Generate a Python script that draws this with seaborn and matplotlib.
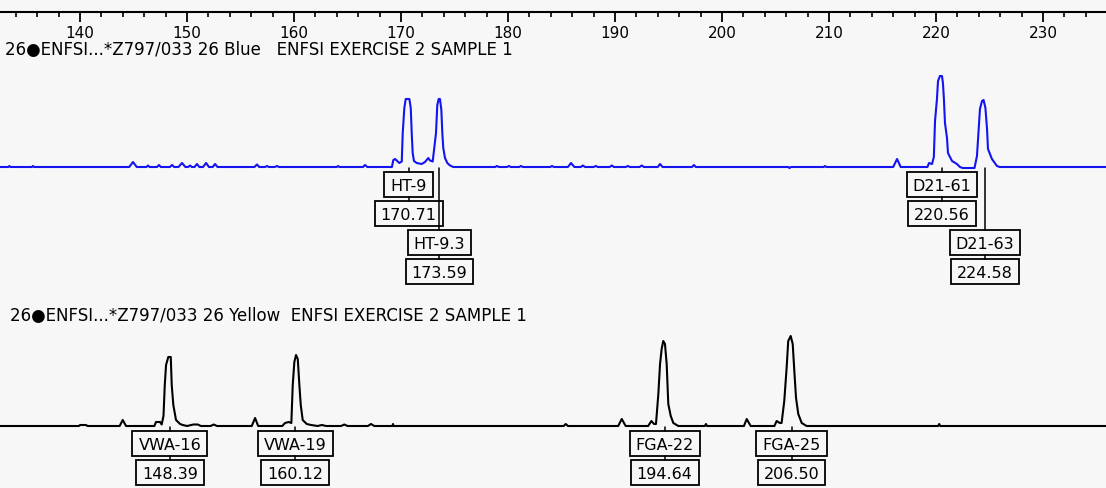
import matplotlib
matplotlib.use('Agg')
import matplotlib.pyplot as plt
from matplotlib.patches import Rectangle
from matplotlib.ticker import MultipleLocator
import seaborn as sns

# trace vertices: fragment size (bp) and signal height above baseline
blue_size = [132.52,
             133.3, 133.4, 133.5, 135.5, 135.6, 135.7,
             144.6, 144.95, 145.3, 146.2, 146.36, 146.5, 147.2, 147.38, 147.55,
             148.4, 148.6, 148.8, 149.2, 149.53, 149.85, 150.1, 150.28, 150.45,
             150.7, 150.93, 151.15, 151.5, 151.78, 152.05, 152.4, 152.62, 152.85,
             156.3, 156.54, 156.75, 157.3, 157.48, 157.65, 158.2, 158.41, 158.6,
             164.0, 164.11, 164.25, 166.45, 166.64, 166.85,
             169.15, 169.28, 169.44, 169.60, 169.84, 170.07, 170.16, 170.31, 170.44, 170.78,
             170.91, 171.00, 171.09, 171.21, 171.47, 171.93, 172.24, 172.40, 172.55, 172.71,
             172.96, 173.27, 173.39, 173.52, 173.64, 173.77, 173.86, 173.95, 174.11, 174.33,
             174.58, 174.89,
             178.8, 178.97, 179.15, 179.9, 180.09, 180.25, 181.05, 181.21, 181.4,
             183.95, 184.11, 184.3, 185.6, 185.89, 186.2, 186.8, 187.0, 187.2,
             188.0, 188.2, 188.4, 189.5, 189.7, 189.9, 191.0, 191.2, 191.4,
             192.3, 192.5, 192.7, 194.0, 194.21, 194.45, 197.2, 197.38, 197.55,
             206.2, 206.3, 206.45, 209.5, 209.63, 209.75, 216.0, 216.36, 216.7,
             219.2, 219.35, 219.63, 219.80, 219.91, 220.09, 220.19, 220.37, 220.56, 220.65,
             220.74, 220.84, 221.03, 221.12, 221.50, 221.96, 222.24, 222.5, 223.6, 223.83,
             224.11, 224.30, 224.45, 224.62, 224.77, 224.86, 225.23, 225.70, 225.95,
             235.89]
blue_rfu = [0,
            0, 1, 0, 0, 1, 0,
            0, 5, 0, 0, 1.5, 0, 0, 2, 0,
            0, 2, 0, 0, 4, 0, 0, 1.5, 0,
            0, 3, 0, 0, 4, 0, 0, 3, 0,
            0, 2.5, 0, 0, 1, 0, 0, 1, 0,
            0, 1, 0, 0, 2, 0,
            0, 7, 8, 6.5, 4, 5.5, 34, 59, 68, 68,
            59, 34, 14, 6, 4, 3, 5, 7, 9, 6.5,
            5.5, 34, 62, 68, 68, 57, 34, 19, 9, 4,
            1.5, 0,
            0, 1, 0, 0, 1, 0, 0, 1, 0,
            0, 1, 0, 0, 4, 0, 0, 1.5, 0,
            0, 1, 0, 0, 1.5, 0, 0, 1, 0,
            0, 1.5, 0, 0, 3, 0, 0, 2, 0,
            0, -1, 0, 0, 1, 0, 0, 8, 0,
            0, 4, 3, 10, 46, 68, 86, 91, 91, 84,
            68, 44, 29, 14, 6, 3, 0, -1, -1, 11,
            58, 66, 67, 59, 38, 18, 8, 1, 0,
            0]

yellow_size = [132.52,
               139.9, 140.0, 140.56, 140.7, 143.7, 143.99, 144.3,
               146.95, 147.10, 147.48, 147.63, 147.80, 147.92, 148.04, 148.25, 148.48, 148.57,
               148.72, 148.97, 149.35, 149.6, 150.0,
               150.6, 151.0, 151.3, 152.2, 152.5, 152.8, 156.05, 156.36, 156.65,
               158.9, 159.16, 159.5, 159.75, 159.88, 160.03, 160.19, 160.35, 160.50, 160.63,
               160.81, 161.19, 161.6, 162.2,
               162.6, 163.0, 164.4, 164.7, 165.0, 166.9, 167.2, 167.5, 169.2, 169.25, 169.3,
               185.2, 185.4, 185.6, 190.3, 190.63, 191.0,
               193.1, 193.4, 193.65, 193.83, 194.05, 194.21, 194.36, 194.51, 194.67, 194.83,
               194.98, 195.21, 195.45, 195.92,
               198.4, 198.5, 198.6, 202.05, 202.31, 202.68,
               204.9, 205.11, 205.4, 205.57, 205.82, 206.04, 206.19, 206.42, 206.61, 206.76,
               206.92, 207.13, 207.45, 207.91,
               220.2, 220.3, 220.4,
               235.89]
yellow_rfu = [0,
              0, 1, 1, 0, 0, 6, 0,
              0, 4, 4, 1.5, 10, 41, 61, 69, 69, 41,
              21, 6, 2, 1, 0,
              1.5, 1.5, 0, 0, 1.5, 0, 0, 8, 0,
              0, 3, 4, 3, 41, 64, 71, 67, 41, 21,
              6, 2, 1, 0,
              1, 0, 0, 1.5, 0, 0, 2, 0, 0, 2, 0,
              0, 2, 0, 0, 7, 0,
              0, 5, 2, 2, 32, 62, 77, 85, 82, 62,
              22, 10, 3, 0,
              0, 2, 0, 0, 7, 0,
              0, 5, 3, 3, 25, 58, 85, 90, 82, 55,
              28, 12, 3, 0,
              0, 2, 0,
              0]

blue_alleles = ['HT-9', 'HT-9.3', 'D21-61', 'D21-63']
blue_calls = [170.71, 173.59, 220.56, 224.58]
yellow_alleles = ['VWA-16', 'VWA-19', 'FGA-22', 'FGA-25']
yellow_calls = [148.39, 160.12, 194.64, 206.50]

blue_title = '26\u25cfENFSI...*Z797/033 26 Blue   ENFSI EXERCISE 2 SAMPLE 1'
yellow_title = '26\u25cfENFSI...*Z797/033 26 Yellow  ENFSI EXERCISE 2 SAMPLE 1'
size_range = (132.52, 235.89)

BG = '#f7f7f7'
BLUE = '#1414f0'
W, H = 1106, 489

sns.set_theme(style='white', rc={'axes.facecolor': BG, 'figure.facecolor': BG,
                                 'text.color': 'black', 'xtick.color': 'black',
                                 'xtick.labelcolor': 'black'})
plt.rcParams['font.family'] = ['DejaVu Sans']

fig = plt.figure(figsize=(W / 100, H / 100), dpi=100)


def px_axes(top, bottom):
    # axes spanning the full width, between two pixel rows
    ax = fig.add_axes([0, 1 - bottom / H, 1, (bottom - top) / H])
    ax.set_xlim(*size_range)
    ax.set_axis_off()
    return ax


# size ruler along the top
ruler = fig.add_axes([0, 1 - 13 / H, 1, 2 / H])
ruler.set_xlim(*size_range)
ruler.set_facecolor('none')
for s in ['top', 'left', 'right']:
    ruler.spines[s].set_visible(False)
ruler.spines['bottom'].set_linewidth(1.5)
ruler.spines['bottom'].set_color('black')
ruler.set_yticks([])
ruler.xaxis.set_major_locator(MultipleLocator(10))
ruler.xaxis.set_minor_locator(MultipleLocator(2))
ruler.tick_params(axis='x', which='major', direction='out', length=7.5, width=1.3,
                  color='black', labelcolor='black', labelsize=11, pad=2, bottom=True)
ruler.tick_params(axis='x', which='minor', direction='out', length=3.3, width=1.2,
                  color='black', bottom=True)

# 1 data unit in y == 1 pixel, baseline at 0
ax_blue = px_axes(60, 300)
ax_blue.set_ylim(-132, 108)
ax_yel = px_axes(330, 489)
ax_yel.set_ylim(-62, 97)

sns.lineplot(x=blue_size, y=blue_rfu, ax=ax_blue, color=BLUE, lw=1.5,
             estimator=None, sort=False)
sns.lineplot(x=yellow_size, y=yellow_rfu, ax=ax_yel, color='black', lw=1.5,
             estimator=None, sort=False)

fig.text(5 / W, 1 - 55 / H, blue_title, fontsize=12, va='baseline', color='black')
fig.text(10 / W, 1 - 321 / H, yellow_title, fontsize=12, va='baseline', color='black')

NAME_Y = [-17, -75.5]
VALUE_Y = [-46.5, -104]
BOX_H = 25
texts = []


def call_levels(calls):
    levels = []
    for i, c in enumerate(calls):
        if i and c - calls[i - 1] < 6 and levels[-1] == 0:
            levels.append(1)
        else:
            levels.append(0)
    return levels


def draw_calls(ax, alleles, calls):
    for name, call, lev in zip(alleles, calls, call_levels(calls)):
        ny, vy = NAME_Y[lev], VALUE_Y[lev]
        ax.plot([call, call], [-1, ny + BOX_H / 2], color='black', lw=1.1, zorder=4)
        ax.plot([call, call], [ny - BOX_H / 2, vy + BOX_H / 2], color='black', lw=1.1, zorder=4)
        for y, s in ((ny, name), (vy, f'{call:.2f}')):
            t = ax.text(call, y, s, ha='center', va='center_baseline', fontsize=11.5,
                        color='black', zorder=5)
            texts.append((ax, t, y))


draw_calls(ax_blue, blue_alleles, blue_calls)
draw_calls(ax_yel, yellow_alleles, yellow_calls)

# boxes sized to the rendered labels
fig.canvas.draw()
renderer = fig.canvas.get_renderer()
for ax, t, y in texts:
    bb = t.get_window_extent(renderer)
    inv = ax.transData.inverted()
    x0 = inv.transform((bb.x0 - 6, 0))[0]
    x1 = inv.transform((bb.x1 + 6, 0))[0]
    ax.add_patch(Rectangle((x0, y - BOX_H / 2), x1 - x0, BOX_H, fc=BG, ec='black',
                           lw=1.3, zorder=3, clip_on=False))

fig.savefig('out.png', dpi=100, facecolor=BG)
